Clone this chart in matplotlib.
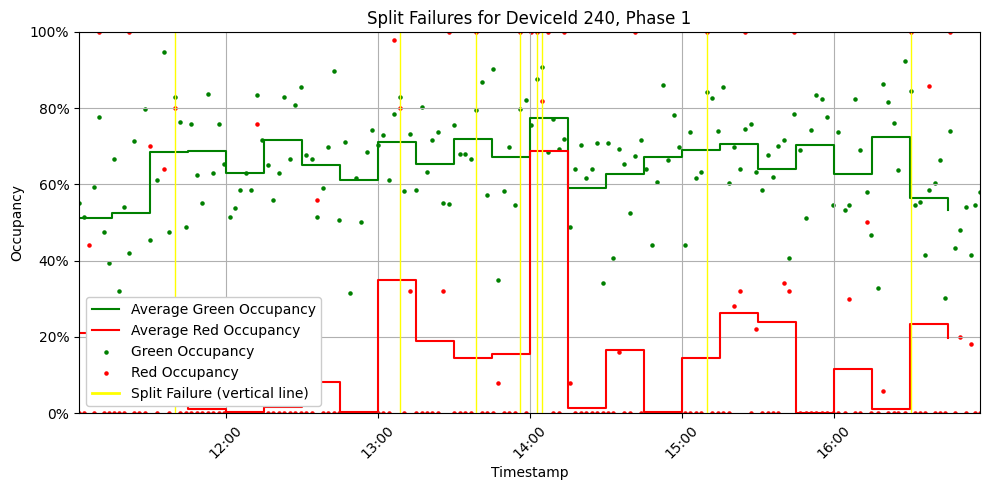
import pandas as pd
import matplotlib
matplotlib.use("Agg")
import matplotlib.pyplot as plt
import matplotlib.dates as mdates
from matplotlib.ticker import PercentFormatter

day = "2024-05-14 "

# one entry per signal cycle
cycle_times = [
    "11:02:10", "11:04:05", "11:06:00", "11:08:00", "11:10:00", "11:12:00", "11:13:55", "11:15:55", "11:17:55", "11:19:55",
    "11:21:50", "11:23:50", "11:26:00", "11:28:10", "11:30:05", "11:32:50", "11:35:40", "11:37:35", "11:40:00", "11:42:00",
    "11:44:10", "11:46:20", "11:48:40", "11:50:40", "11:53:05", "11:55:00", "11:57:25", "11:59:25", "12:01:35", "12:03:40",
    "12:05:40", "12:08:10", "12:10:00", "12:12:25", "12:14:25", "12:16:50", "12:18:40", "12:21:05", "12:23:05", "12:25:25",
    "12:27:25", "12:29:50", "12:31:50", "12:34:05", "12:36:05", "12:38:30", "12:40:25", "12:42:50", "12:44:50", "12:47:10",
    "12:49:05", "12:51:30", "12:53:30", "12:55:55", "12:57:50", "13:00:10", "13:02:10", "13:04:30", "13:06:30", "13:08:55",
    "13:10:30", "13:12:50", "13:15:10", "13:17:35", "13:19:35", "13:21:30", "13:23:55", "13:25:55", "13:28:10", "13:30:10",
    "13:32:35", "13:34:35", "13:36:55", "13:38:55", "13:41:20", "13:43:20", "13:45:35", "13:47:35", "13:50:00", "13:51:55",
    "13:54:20", "13:56:20", "13:58:40", "14:00:35", "14:03:00", "14:05:00", "14:07:20", "14:09:20", "14:11:40", "14:13:40",
    "14:16:00", "14:18:00", "14:20:25", "14:22:25", "14:24:40", "14:26:40", "14:29:05", "14:31:00", "14:33:00", "14:35:25",
    "14:37:25", "14:39:40", "14:41:40", "14:44:05", "14:46:05", "14:48:25", "14:50:25", "14:52:50", "14:54:40", "14:57:05",
    "14:59:05", "15:01:30", "15:03:30", "15:05:50", "15:07:50", "15:10:10", "15:12:05", "15:14:30", "15:16:30", "15:18:50",
    "15:20:50", "15:23:10", "15:25:10", "15:27:30", "15:29:30", "15:31:55", "15:33:55", "15:36:10", "15:38:10", "15:40:35",
    "15:42:30", "15:44:30", "15:46:55", "15:48:55", "15:51:10", "15:53:10", "15:55:35", "15:57:35", "15:59:50", "16:01:55",
    "16:04:20", "16:06:10", "16:08:35", "16:10:35", "16:13:00", "16:14:55", "16:17:20", "16:19:20", "16:21:40", "16:23:40",
    "16:25:35", "16:28:00", "16:30:25", "16:32:00", "16:33:55", "16:35:55", "16:37:50", "16:39:50", "16:41:50", "16:44:10",
    "16:46:05", "16:48:05", "16:50:05", "16:52:05", "16:54:05", "16:56:00", "16:57:50",
]

green_occ = [
    55.1, 51.4, 28.0, 59.2, 77.6, 47.5, 39.3, 66.7, 31.9, 54.0,
    41.9, 71.3, 22.6, 79.8, 45.4, 61.1, 94.8, 47.5, 82.9, 76.3,
    48.7, 75.8, 62.4, 55.0, 83.6, 62.9, 75.8, 65.4, 51.4, 53.7,
    58.4, 63.0, 58.4, 83.4, 71.6, 65.1, 55.8, 62.9, 82.9, 66.6,
    80.8, 85.5, 67.6, 66.6, 51.4, 59.0, 69.7, 89.7, 50.6, 71.0,
    31.4, 61.6, 50.0, 68.4, 74.2, 70.3, 72.9, 61.1, 78.4, 82.9,
    58.2, 73.1, 58.4, 80.2, 63.2, 71.6, 73.7, 55.0, 54.8, 75.5,
    67.9, 67.9, 66.6, 79.4, 86.8, 57.1, 90.2, 34.8, 58.2, 69.7,
    54.5, 79.8, 82.1, 75.5, 87.6, 90.7, 68.4, 77.1, 69.2, 71.8,
    48.7, 64.0, 70.3, 61.6, 64.0, 70.8, 34.0, 70.8, 40.6, 69.2,
    65.3, 52.4, 67.4, 71.6, 64.0, 44.0, 60.5, 86.0, 66.3, 78.1,
    69.7, 44.0, 73.7, 61.6, 63.2, 84.2, 82.6, 73.9, 85.5, 60.3,
    69.7, 64.0, 74.5, 75.8, 63.2, 58.4, 67.6, 61.9, 70.0, 71.6,
    40.6, 78.4, 68.9, 51.1, 74.2, 83.4, 82.3, 77.6, 54.5, 73.7,
    53.2, 54.5, 82.3, 68.9, 57.9, 46.6, 32.7, 86.3, 81.5, 76.0,
    63.7, 92.3, 84.4, 54.5, 55.3, 41.4, 58.4, 60.3, 66.3, 30.1,
    73.9, 43.2, 47.9, 54.0, 41.4, 54.5, 57.9,
]

red_occ = [
    0, 0, 44, 0, 100, 0, 0, 0, 0, 0,
    100, 0, 0, 0, 70, 0, 64, 0, 80, 0,
    0, 0, 0, 0, 0, 0, 0, 0, 0, 0,
    0, 0, 0, 75.8, 0, 0, 0, 0, 0, 0,
    0, 0, 0, 0, 55.8, 0, 0, 0, 0, 0,
    0, 0, 0, 0, 0, 0, 0, 0, 97.8, 80,
    0, 31.9, 0, 0, 0, 0, 0, 31.9, 100, 0,
    0, 0, 0, 100, 0, 0, 0, 8, 0, 0,
    0, 100, 0, 100, 100, 81.9, 100, 0, 0, 100,
    8, 0, 0, 0, 0, 0, 0, 0, 0, 15.9,
    0, 0, 100, 0, 0, 0, 0, 0, 0, 0,
    0, 0, 0, 0, 0, 100, 0, 0, 0, 0,
    28, 31.9, 100, 0, 22, 0, 0, 0, 0, 34,
    31.9, 100, 0, 0, 0, 0, 0, 0, 0, 0,
    0, 29.8, 0, 0, 50, 0, 0, 5.9, 0, 0,
    0, 0, 100, 0, 0, 0, 85.7, 0, 0, 0,
    100, 0, 19.9, 0, 18, 0, 0,
]

# 15-minute averages, starting 11:00
green_avg = [51.2, 52.6, 68.5, 68.8, 63.1, 71.5, 65.2, 61.2, 71.2, 65.4, 71.8, 67.3,
             77.5, 59.1, 62.6, 67.2, 69.1, 70.6, 64.1, 70.3, 62.6, 72.3, 56.5, 53.3]
red_avg = [20.9, 14.3, 26.0, 1.1, 0.3, 1.5, 8.2, 0.2, 34.9, 19.0, 14.5, 15.5,
           68.8, 1.3, 16.5, 0.3, 14.5, 26.2, 24.0, 0.1, 11.5, 1.1, 23.4, 19.6]

split_failures = ["11:40:00", "13:08:55", "13:38:55", "13:56:20",
                  "14:03:00", "14:05:00", "15:10:10", "16:30:25"]

t = pd.to_datetime([day + s for s in cycle_times])
bins = pd.date_range(day + "11:00", periods=len(green_avg), freq="15min")
sf = pd.to_datetime([day + s for s in split_failures])

fig, ax = plt.subplots(figsize=(9.89, 4.9), dpi=100)
ax.step(bins, green_avg, where="post", color="green", label="Average Green Occupancy")
ax.step(bins, red_avg, where="post", color="red", label="Average Red Occupancy")
ax.scatter(t, green_occ, s=5, color="green", label="Green Occupancy")
ax.scatter(t, red_occ, s=5, color="red", label="Red Occupancy")
for i, x in enumerate(sf):
    ax.axvline(x, color="yellow", linewidth=1,
               label="Split Failure (vertical line)" if i == 0 else None)

ax.set_xlim(t.min(), t.max())
ax.set_ylim(0, 100)
ax.yaxis.set_major_formatter(PercentFormatter(100, decimals=0))
ax.xaxis.set_major_locator(mdates.HourLocator())
ax.xaxis.set_major_formatter(mdates.DateFormatter("%H:%M"))
plt.setp(ax.get_xticklabels(), rotation=45)
ax.set_title("Split Failures for DeviceId 240, Phase 1")
ax.set_xlabel("Timestamp")
ax.set_ylabel("Occupancy")
ax.grid(True)
leg = ax.legend(loc="lower left", framealpha=1)
leg.get_lines()[-1].set_linewidth(2)

fig.subplots_adjust(left=0.080, right=0.991, top=0.935, bottom=0.157)
fig.savefig("out.png")
